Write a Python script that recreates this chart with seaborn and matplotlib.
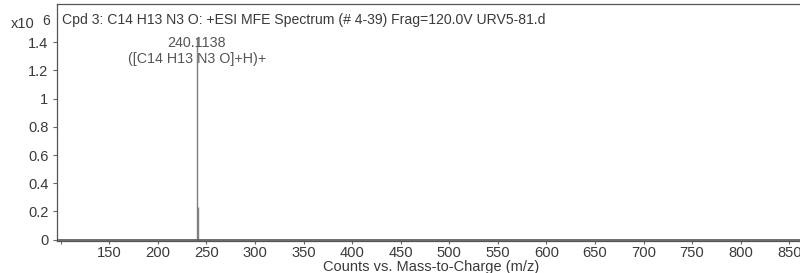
import matplotlib
matplotlib.use("Agg")
import matplotlib.pyplot as plt
import seaborn as sns

# Peak list (m/z, counts x10^6)
mz = [240.1138, 241.1170]
counts = [1.43, 0.23]

x_ticks = [100, 150, 200, 250, 300, 350, 400, 450, 500, 550, 600, 650, 700, 750, 800, 850]
x_tick_labels = [""] + [str(t) for t in x_ticks[1:]]
y_ticks = [0, 0.2, 0.4, 0.6, 0.8, 1.0, 1.2, 1.4]
y_tick_labels = ["0", "0.2", "0.4", "0.6", "0.8", "1", "1.2", "1.4"]

title = "Cpd 3: C14 H13 N3 O: +ESI MFE Spectrum (# 4-39) Frag=120.0V URV5-81.d"
peak_label = "240.1138\n([C14 H13 N3 O]+H)+"

sns.set_style("white")
plt.rcParams["font.family"] = ["Liberation Sans", "DejaVu Sans"]
txt = "#3a3a3a"

fig = plt.figure(figsize=(8, 2.73), dpi=100)
ax = fig.add_axes([0.071, 0.117, 0.935, 0.868])

ax.vlines(mz, 0, counts, color="#808080", linewidth=1.0)
ax.axhline(0, color="#555555", linewidth=1.2)

ax.set_xlim(96, 866)
ax.set_ylim(-0.01, 1.67)
ax.set_xticks(x_ticks)
ax.set_xticklabels(x_tick_labels)
ax.set_yticks(y_ticks)
ax.set_yticklabels(y_tick_labels)
ax.tick_params(axis="x", labelsize=10.6, colors="#666666", labelcolor=txt,
               length=2.5, width=0.8, pad=1, direction="out", bottom=True)
ax.tick_params(axis="y", labelsize=10.5, colors="#666666", labelcolor=txt,
               length=3, width=0.8, pad=3, direction="out", left=True)

for side in ["left", "bottom", "top"]:
    ax.spines[side].set_color("#555555")
    ax.spines[side].set_linewidth(0.9)
ax.spines["right"].set_visible(False)

ax.set_xlabel("Counts vs. Mass-to-Charge (m/z)", fontsize=10.5, color=txt, labelpad=0)
fig.text(0.0775, 0.912, title, ha="left", va="baseline", fontsize=10.1, color=txt)
ax.text(mz[0], 1.335, peak_label, ha="center", va="center", fontsize=10.3,
        color="#555555", linespacing=1.2)
fig.text(0.014, 0.897, "x10", fontsize=10.5, color=txt, ha="left", va="baseline")
fig.text(0.053, 0.909, "6", fontsize=10, color=txt, ha="left", va="baseline")

fig.savefig("out.png", dpi=100)
